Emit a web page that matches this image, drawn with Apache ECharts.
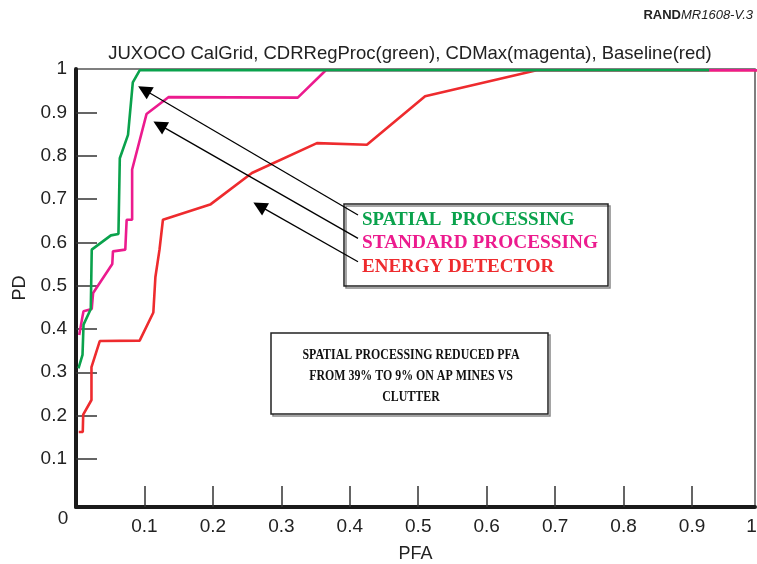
<!DOCTYPE html>
<html><head><meta charset="utf-8">
<script src="https://cdn.jsdelivr.net/npm/echarts@6/dist/echarts.min.js"></script>
<style>html,body{margin:0;padding:0;background:#fff}#c{width:757px;height:564px}</style>
</head><body><div id="c"></div>
<script>
// ---- data ----
const pfaGreen = [0.0036, 0.0095, 0.011, 0.0216, 0.023, 0.051, 0.062, 0.064, 0.076, 0.083, 0.093, 0.925];
const pdGreen  = [0.309, 0.340, 0.410, 0.446, 0.583, 0.616, 0.619, 0.794, 0.848, 0.969, 0.997, 0.997];

const pfaMagenta = [0.0047, 0.0095, 0.011, 0.023, 0.025, 0.053, 0.054, 0.072, 0.074, 0.082, 0.082, 0.103, 0.135, 0.324, 0.365, 1.0];
const pdMagenta  = [0.386, 0.429, 0.441, 0.446, 0.483, 0.550, 0.579, 0.583, 0.652, 0.652, 0.768, 0.896, 0.935, 0.934, 0.997, 0.997];

const pfaRed = [0.004, 0.0099, 0.0105, 0.0226, 0.0226, 0.0347, 0.093, 0.113, 0.116, 0.122, 0.127, 0.196, 0.257, 0.352, 0.425, 0.510, 0.673, 1.0];
const pdRed  = [0.162, 0.162, 0.202, 0.236, 0.312, 0.372, 0.373, 0.438, 0.520, 0.583, 0.652, 0.687, 0.760, 0.829, 0.825, 0.937, 0.997, 0.997];

const xTickValues  = [0.1, 0.2, 0.3, 0.4, 0.5, 0.6, 0.7, 0.8, 0.9];
const xLabelValues = [0.1, 0.2, 0.3, 0.4, 0.5, 0.6, 0.7, 0.8, 0.9, 0.987];
const yTickValues  = [0.1, 0.2, 0.3, 0.4, 0.5, 0.6, 0.7, 0.8, 0.9];
const yLabelValues = [0.1, 0.2, 0.3, 0.4, 0.5, 0.6, 0.7, 0.8, 0.9, 1];

// arrows: [head, tail] in data coordinates
const arrowHeads = [[0.0996, 0.952], [0.122, 0.871], [0.268, 0.684]];
const arrowTails = [[0.412, 0.663], [0.412, 0.609], [0.412, 0.555]];

const titleText = 'JUXOCO CalGrid, CDRRegProc(green), CDMax(magenta), Baseline(red)';
const boxLines1 = ['SPATIAL  PROCESSING', 'STANDARD PROCESSING', 'ENERGY DETECTOR'];
const boxLines2 = ['SPATIAL PROCESSING REDUCED PFA', 'FROM 39% TO 9% ON AP MINES VS', 'CLUTTER'];

// ---- build ----
function pairs(xs, ys) { return xs.map((x, i) => [x, ys[i]]); }
const GREEN = '#0aa24c', MAGENTA = '#ec1b8e', RED = '#ee2b2e';
const SANS = '"Liberation Sans", Arial, sans-serif';
const SERIF = '"Liberation Serif", "Times New Roman", serif';

const chart = echarts.init(document.getElementById('c'));

const arrowData = arrowHeads.map((h, i) => [
  { coord: arrowTails[i], symbol: 'none' },
  { coord: h, symbol: 'triangle' }
]);

const b2 = { font: 'bold 14px ' + SERIF, fill: '#111', textAlign: 'center', textVerticalAlign: 'middle' };

const graphics = [
  { type: 'text', x: 753, y: 15, style: { text: '{b|RAND}{i|MR1608-V.3}', textAlign: 'right', textVerticalAlign: 'middle',
      rich: { b: { fontFamily: SANS, fontWeight: 'bold', fontSize: 13, fill: '#222' }, i: { fontFamily: SANS, fontStyle: 'italic', fontSize: 13, fill: '#222' } } } },
  { type: 'text', x: 63, y: 519, style: { text: '0', font: '19px ' + SANS, fill: '#222', textAlign: 'center', textVerticalAlign: 'middle' } },
  // box 1
  { type: 'rect', z: 1, shape: { x: 346, y: 206, width: 264, height: 82 }, style: { fill: 'none', stroke: '#888', lineWidth: 1.5 } },
  { type: 'rect', z: 1, shape: { x: 344, y: 204, width: 264, height: 82 }, style: { fill: 'none', stroke: '#222', lineWidth: 1.5 } },
  { type: 'text', z: 5, x: 362, y: 220, style: { text: boxLines1[0], font: 'bold 19px ' + SERIF, fill: GREEN, textVerticalAlign: 'middle' } },
  { type: 'text', z: 5, x: 362, y: 243.5, style: { text: boxLines1[1], font: 'bold 19.3px ' + SERIF, fill: MAGENTA, textVerticalAlign: 'middle' } },
  { type: 'text', z: 5, x: 362, y: 267, style: { text: boxLines1[2], font: 'bold 19px ' + SERIF, fill: RED, textVerticalAlign: 'middle' } },
  // box 2
  { type: 'rect', z: 1, shape: { x: 273, y: 335, width: 277, height: 81 }, style: { fill: 'none', stroke: '#888', lineWidth: 1.5 } },
  { type: 'rect', z: 1, shape: { x: 271, y: 333, width: 277, height: 81 }, style: { fill: '#fff', stroke: '#222', lineWidth: 1.5 } },
  { type: 'text', z: 5, x: 411, y: 355, scaleX: 0.85, style: Object.assign({ text: boxLines2[0] }, b2) },
  { type: 'text', z: 5, x: 411, y: 376, scaleX: 0.85, style: Object.assign({ text: boxLines2[1] }, b2) },
  { type: 'text', z: 5, x: 411, y: 397, scaleX: 0.85, style: Object.assign({ text: boxLines2[2] }, b2) }
];

chart.setOption({
  animation: false,
  backgroundColor: '#fff',
  title: { text: titleText, left: 405, top: 39, textAlign: 'center',
    textStyle: { fontFamily: SANS, fontSize: 18.5, fontWeight: 'normal', color: '#222' } },
  grid: { left: 76, right: 2, top: 69, bottom: 57, show: true, borderColor: '#555', borderWidth: 1.5,
    containLabel: false, outerBoundsMode: 'none' },
  xAxis: {
    type: 'value', min: 0, max: 0.992,
    name: 'PFA', nameLocation: 'middle', nameGap: 38,
    nameTextStyle: { fontFamily: SANS, fontSize: 18, color: '#222' },
    axisLine: { show: true, onZero: false, lineStyle: { color: '#1a1a1a', width: 4 } },
    axisTick: { show: true, inside: true, length: 21, customValues: xTickValues, lineStyle: { color: '#333', width: 1.5 } },
    axisLabel: { show: true, margin: 10, customValues: xLabelValues, fontFamily: SANS, fontSize: 19, color: '#222',
      formatter: v => (v > 0.95 ? '1' : v.toFixed(1)) },
    splitLine: { show: false }
  },
  yAxis: {
    type: 'value', min: -0.011, max: 1,
    name: 'PD', nameLocation: 'middle', nameGap: 47, nameRotate: 90,
    nameTextStyle: { fontFamily: SANS, fontSize: 18, color: '#222' },
    axisLine: { show: true, onZero: false, lineStyle: { color: '#1a1a1a', width: 4 } },
    axisTick: { show: true, inside: true, length: 21, customValues: yTickValues, lineStyle: { color: '#333', width: 1.5 } },
    axisLabel: { show: true, margin: 9, customValues: yLabelValues, fontFamily: SANS, fontSize: 19, color: '#222',
      formatter: v => (v > 0.95 ? '1' : v.toFixed(1)) },
    splitLine: { show: false }
  },
  series: [
    { name: 'Baseline', type: 'line', data: pairs(pfaRed, pdRed), symbol: 'none', silent: true, clip: true,
      lineStyle: { color: RED, width: 2.6 }, z: 2,
      markLine: { silent: true, symbol: ['none', 'triangle'], symbolSize: 14, animation: false,
        label: { show: false }, lineStyle: { color: '#000', width: 1.3, type: 'solid' },
        emphasis: { disabled: true }, data: arrowData } },
    { name: 'CDMax', type: 'line', data: pairs(pfaMagenta, pdMagenta), symbol: 'none', silent: true, clip: true,
      lineStyle: { color: MAGENTA, width: 2.6 }, z: 3 },
    { name: 'CDRRegProc', type: 'line', data: pairs(pfaGreen, pdGreen), symbol: 'none', silent: true, clip: true,
      lineStyle: { color: GREEN, width: 2.6 }, z: 4 }
  ],
  graphic: graphics
});
</script></body></html>
